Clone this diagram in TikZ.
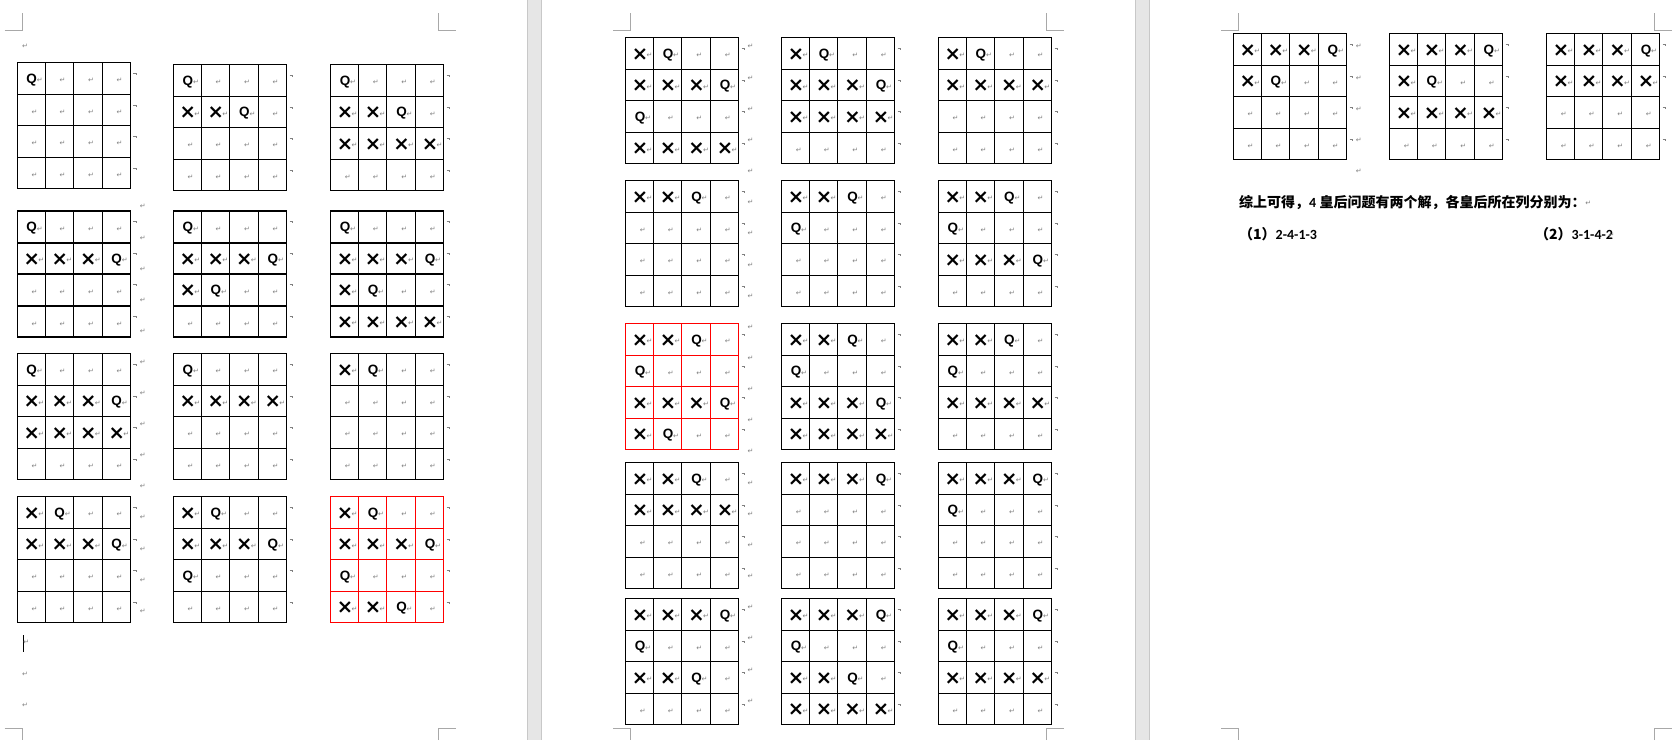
\documentclass[tikz,border=0pt]{standalone}
\usepackage{fontspec}
\setmainfont{Liberation Sans}
\newfontfamily\dejavu{DejaVu Sans}
\newfontfamily\cjk{Noto Sans CJK SC}
\newfontfamily\carlito{Carlito}
\definecolor{markgray}{HTML}{808080}
\definecolor{cropgray}{HTML}{A8A8A8}
\definecolor{bandgray}{HTML}{E6E6E6}
\definecolor{bandedge}{HTML}{C8C8C8}
\definecolor{redgrid}{HTML}{FF0000}
\tikzset{
  gridline/.style={line width=1.1pt, line cap=rect},
  qsym/.style={inner sep=0pt, font=\bfseries\fontsize{13.5}{13.5}\selectfont},
  xsym/.style={inner sep=0pt, font=\dejavu\bfseries\fontsize{19.5}{19.5}\selectfont},
  ret/.style={inner sep=0pt, text=markgray, font=\dejavu\fontsize{7}{7}\selectfont},
  crop/.style={draw=cropgray, line width=0.8pt},
  band/.style={fill=bandgray, draw=none},
  bandline/.style={draw=bandedge, line width=0.9pt},
  endmark/.style={draw=markgray, line width=0.5pt},
  body/.style={inner sep=0pt, anchor=base west, font=\cjk\bfseries\fontsize{14}{14}\selectfont},
}
\def\symQ{Q}
\def\symX{X}
% #1 name, #2 x, #3 y, #4 colour, #5 sixteen entries
\newcommand\qgrid[5]{%
  \begin{scope}[shift={(#2,#3)}]
    \foreach \c [count=\i from 0] in {#5}{
      \pgfmathtruncatemacro\r{\i/4}
      \pgfmathtruncatemacro\k{mod(\i,4)}
      \pgfmathsetmacro\cx{{14,42,70.5,99}[\k]}
      \pgfmathsetmacro\cy{{16,47.5,79,110.5}[\r]+1.5}
      \ifx\c\symQ
        \node[qsym] (#1-\i) at (\cx+0.6,\cy) {Q};
        \node[ret,anchor=west] at (\cx+5.6,\cy+0.6) {↵};
      \else\ifx\c\symX
        \node[xsym] (#1-\i) at (\cx+0.6,\cy-0.5) {×};
        \node[ret,anchor=west] at (\cx+7,\cy+0.6) {↵};
      \else
        \node[ret,anchor=west] (#1-\i) at (\cx+0.3,\cy+0.8) {↵};
      \fi\fi
    }
    \foreach \t in {0,32,63,95}{
      \draw[endmark] (116.3,\t+10.5) -- ++(2.4,0) -- ++(0,1.8);
    }
    \draw[gridline,#4] (0,0) rectangle (113,126);
    \foreach \v in {28,56,85}{\draw[gridline,#4] (\v,0) -- (\v,126);}
    \foreach \h in {32,63,95}{\draw[gridline,#4] (0,\h) -- (113,\h);}
  \end{scope}}
\begin{document}
\begin{tikzpicture}[x=1pt,y=-1pt]
\useasboundingbox (0,0) rectangle (1680,740);
\fill[white] (0,0) rectangle (1680,740);
% gaps between pages
\fill[band] (527.3,0) rectangle (541.7,740);
\draw[bandline] (527.8,0) -- (527.8,740);
\draw[bandline] (541.2,0) -- (541.2,740);
\fill[band] (1135.3,0) rectangle (1149.7,740);
\draw[bandline] (1135.8,0) -- (1135.8,740);
\draw[bandline] (1149.2,0) -- (1149.2,740);
% crop marks
\draw[crop] (4.7,30) -- (22.7,30) -- (22.7,13.3);
\draw[crop] (438.2,13.3) -- (438.2,30) -- (456,30);
\draw[crop] (4.7,728.3) -- (22.7,728.3) -- (22.7,740);
\draw[crop] (438.2,740) -- (438.2,728.3) -- (456,728.3);
\draw[crop] (613.3,30) -- (630.3,30) -- (630.3,13.3);
\draw[crop] (1046.4,13.3) -- (1046.4,30) -- (1063.6,30);
\draw[crop] (613.3,728.3) -- (630.3,728.3) -- (630.3,740);
\draw[crop] (1046.4,740) -- (1046.4,728.3) -- (1063.6,728.3);
\draw[crop] (1221,30) -- (1237.9,30) -- (1237.9,13.3);
\draw[crop] (1654.6,13.3) -- (1654.6,30) -- (1671.8,30);
\draw[crop] (1221,728.3) -- (1237.9,728.3) -- (1237.9,740);
\draw[crop] (1654.6,740) -- (1654.6,728.3) -- (1671.8,728.3);
% ---------------- page 1 ----------------
\node[ret] (p1top) at (25,46.6) {↵};
\qgrid{a11}{17.1}{62.3}{black}{Q,E,E,E, E,E,E,E, E,E,E,E, E,E,E,E}
\qgrid{a12}{173.2}{64.3}{black}{Q,E,E,E, X,X,Q,E, E,E,E,E, E,E,E,E}
\qgrid{a13}{330.4}{64.3}{black}{Q,E,E,E, X,X,Q,E, X,X,X,X, E,E,E,E}
\qgrid{a21}{17.1}{211}{black}{Q,E,E,E, X,X,X,Q, E,E,E,E, E,E,E,E}
\qgrid{a22}{173.2}{211}{black}{Q,E,E,E, X,X,X,Q, X,Q,E,E, E,E,E,E}
\qgrid{a23}{330.4}{211}{black}{Q,E,E,E, X,X,X,Q, X,Q,E,E, X,X,X,X}
\qgrid{a31}{17.1}{353.3}{black}{Q,E,E,E, X,X,X,Q, X,X,X,X, E,E,E,E}
\qgrid{a32}{173.2}{353.3}{black}{Q,E,E,E, X,X,X,X, E,E,E,E, E,E,E,E}
\qgrid{a33}{330.4}{353.3}{black}{X,Q,E,E, E,E,E,E, E,E,E,E, E,E,E,E}
\qgrid{a41}{17.1}{496.3}{black}{X,Q,E,E, X,X,X,Q, E,E,E,E, E,E,E,E}
\qgrid{a42}{173.2}{496.3}{black}{X,Q,E,E, X,X,X,Q, Q,E,E,E, E,E,E,E}
\qgrid{a43}{330.4}{496.3}{redgrid}{X,Q,E,E, X,X,X,Q, Q,E,E,E, X,X,Q,E}
\foreach \k in {0,...,13}{\node[ret] (p1r\k) at (142.9,206.7+31.1*\k) {↵};}
\draw[line width=0.9pt] (23.3,635) -- (23.3,651.7);
\node[ret] (p1b1) at (26.2,642.7) {↵};
\node[ret] (p1b2) at (25,674) {↵};
\node[ret] (p1b3) at (25,705.6) {↵};
% ---------------- page 2 ----------------
\qgrid{b11}{625.4}{37.3}{black}{X,Q,E,E, X,X,X,Q, Q,E,E,E, X,X,X,X}
\qgrid{b12}{781.4}{37.3}{black}{X,Q,E,E, X,X,X,Q, X,X,X,X, E,E,E,E}
\qgrid{b13}{938.2}{37.3}{black}{X,Q,E,E, X,X,X,X, E,E,E,E, E,E,E,E}
\qgrid{b21}{625.4}{180.3}{black}{X,X,Q,E, E,E,E,E, E,E,E,E, E,E,E,E}
\qgrid{b22}{781.4}{180.3}{black}{X,X,Q,E, Q,E,E,E, E,E,E,E, E,E,E,E}
\qgrid{b23}{938.2}{180.3}{black}{X,X,Q,E, Q,E,E,E, X,X,X,Q, E,E,E,E}
\qgrid{b31}{625.4}{323.3}{redgrid}{X,X,Q,E, Q,E,E,E, X,X,X,Q, X,Q,E,E}
\qgrid{b32}{781.4}{323.3}{black}{X,X,Q,E, Q,E,E,E, X,X,X,Q, X,X,X,X}
\qgrid{b33}{938.2}{323.3}{black}{X,X,Q,E, Q,E,E,E, X,X,X,X, E,E,E,E}
\qgrid{b41}{625.4}{462.3}{black}{X,X,Q,E, X,X,X,X, E,E,E,E, E,E,E,E}
\qgrid{b42}{781.4}{462.3}{black}{X,X,X,Q, E,E,E,E, E,E,E,E, E,E,E,E}
\qgrid{b43}{938.2}{462.3}{black}{X,X,X,Q, Q,E,E,E, E,E,E,E, E,E,E,E}
\qgrid{b51}{625.4}{598.3}{black}{X,X,X,Q, Q,E,E,E, X,X,Q,E, E,E,E,E}
\qgrid{b52}{781.4}{598.3}{black}{X,X,X,Q, Q,E,E,E, X,X,Q,E, X,X,X,X}
\qgrid{b53}{938.2}{598.3}{black}{X,X,X,Q, Q,E,E,E, X,X,X,X, E,E,E,E}
\foreach \k in {0,...,21}{\node[ret] (p2r\k) at (750.6,46.7+31.16*\k) {↵};}
% ---------------- page 3 ----------------
\qgrid{c11}{1233.2}{33.3}{black}{X,X,X,Q, X,Q,E,E, E,E,E,E, E,E,E,E}
\qgrid{c12}{1389.3}{33.3}{black}{X,X,X,Q, X,Q,E,E, X,X,X,X, E,E,E,E}
\qgrid{c13}{1546.4}{33.3}{black}{X,X,X,Q, X,X,X,X, E,E,E,E, E,E,E,E}
\foreach \k in {0,...,4}{\node[ret] (p3r\k) at (1358.8,46.7+31.2*\k) {↵};}
\node[body] (sum) at (1239,207.5) {综上可得，{\carlito 4} 皇后问题有两个解，各皇后所在列分别为：};
\node[ret] (sumret) at (1588.3,203) {↵};
\node[body] (sol1) at (1239,239.3) {（1）{\carlito 2-4-1-3}};
\node[body] (sol2) at (1535,239.3) {（2）{\carlito 3-1-4-2}};
\node[ret] (sol2ret) at (1611.5,235.5) {↵};
\end{tikzpicture}
\end{document}
